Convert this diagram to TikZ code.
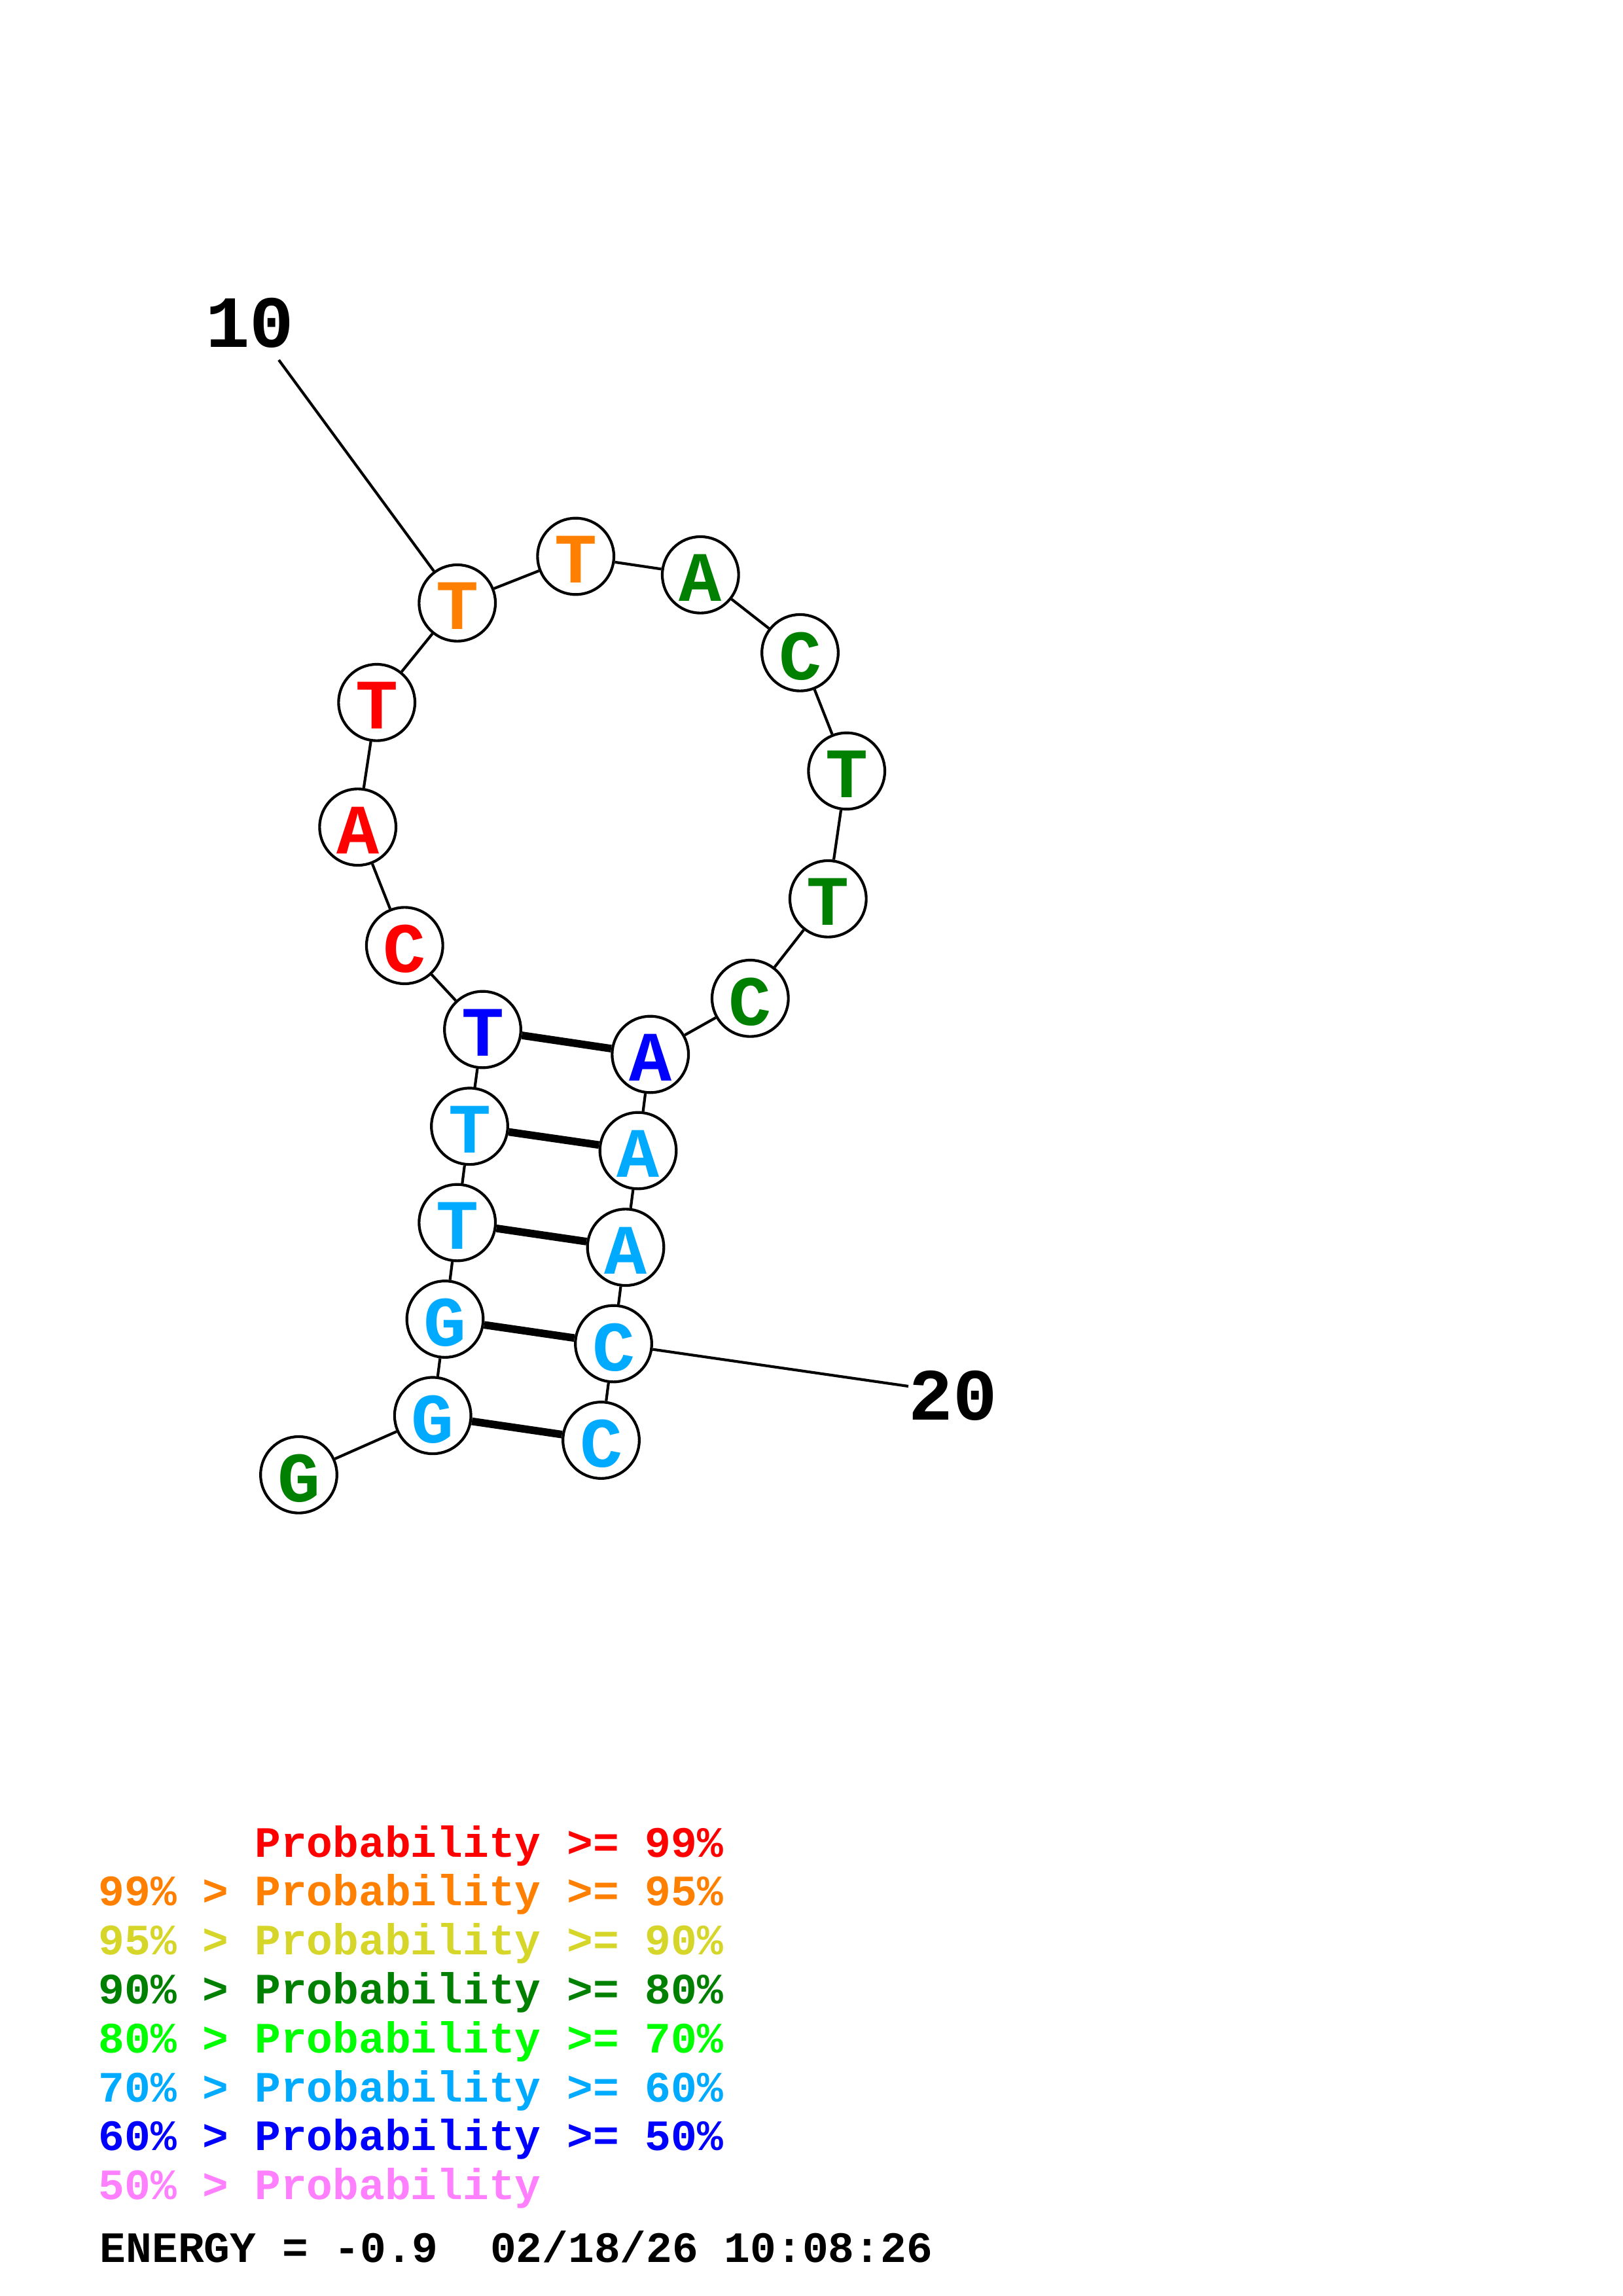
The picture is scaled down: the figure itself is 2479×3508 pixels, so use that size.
\documentclass[tikz,border=0pt]{standalone}
\usepackage{fontspec}
\setmonofont{Liberation Mono}
\definecolor{prob99}{RGB}{255,0,0}
\definecolor{prob95}{RGB}{255,128,0}
\definecolor{prob90}{RGB}{214,214,42}
\definecolor{prob80}{RGB}{0,128,0}
\definecolor{prob70}{RGB}{0,255,0}
\definecolor{prob60}{RGB}{0,170,255}
\definecolor{prob50}{RGB}{0,0,255}
\definecolor{problow}{RGB}{255,128,255}
% letter set a little low in its circle
\newcommand{\nuc}[1]{\raisebox{-1.2pt}[\height][0pt]{#1}}
\tikzset{
	nt/.style={circle, draw=black, fill=white, line width=1pt, minimum size=28pt, inner sep=0pt,
		font=\ttfamily\bfseries\fontsize{26}{26}\selectfont},
	chain/.style={line width=1pt},
	bpair/.style={line width=2.8pt},
	numlabel/.style={anchor=base, inner sep=0pt, font=\ttfamily\bfseries\fontsize{27}{27}\selectfont},
	legendline/.style={anchor=base west, inner sep=0pt, font=\ttfamily\bfseries\fontsize{15.9}{15.9}\selectfont},
}
\begin{document}
\begin{tikzpicture}[x=0.24pt, y=-0.24pt]
	\useasboundingbox (0,0) rectangle (2479,3508);
	\fill[white] (0,0) rectangle (2479,3508);
	% strand 5' side
	\node[nt, text=prob80] (n1) at (456.5,2253.3) {\nuc{G}};
	\node[nt, text=prob60] (n2) at (661.2,2162.8) {\nuc{G}};
	\node[nt, text=prob60] (n3) at (680.0,2015.5) {\nuc{G}};
	\node[nt, text=prob60] (n4) at (698.7,1868.0) {\nuc{T}};
	\node[nt, text=prob60] (n5) at (717.5,1720.8) {\nuc{T}};
	\node[nt, text=prob50] (n6) at (737.5,1573.0) {\nuc{T}};
	% loop
	\node[nt, text=prob99] (n7) at (618.3,1444.7) {\nuc{C}};
	\node[nt, text=prob99] (n8) at (546.7,1263.7) {\nuc{A}};
	\node[nt, text=prob99] (n9) at (575.7,1073.3) {\nuc{T}};
	\node[nt, text=prob95] (n10) at (698.7,921.3) {\nuc{T}};
	\node[nt, text=prob95] (n11) at (879.7,850.0) {\nuc{T}};
	\node[nt, text=prob80] (n12) at (1070.3,878.3) {\nuc{A}};
	\node[nt, text=prob80] (n13) at (1222.5,997.3) {\nuc{C}};
	\node[nt, text=prob80] (n14) at (1293.7,1178.0) {\nuc{T}};
	\node[nt, text=prob80] (n15) at (1265.3,1373.3) {\nuc{T}};
	\node[nt, text=prob80] (n16) at (1146.3,1525.3) {\nuc{C}};
	% strand 3' side
	\node[nt, text=prob50] (n17) at (993.7,1611.0) {\nuc{A}};
	\node[nt, text=prob60] (n18) at (975.0,1758.0) {\nuc{A}};
	\node[nt, text=prob60] (n19) at (956.0,1905.7) {\nuc{A}};
	\node[nt, text=prob60] (n20) at (937.5,2053.0) {\nuc{C}};
	\node[nt, text=prob60] (n21) at (918.5,2200.5) {\nuc{C}};
	% backbone
	\foreach \a [count=\b from 2] in {1,...,20}
		\draw[chain] (n\a) -- (n\b);
	% base pairs
	\draw[bpair] (n2) -- (n21);
	\draw[bpair] (n3) -- (n20);
	\draw[bpair] (n4) -- (n19);
	\draw[bpair] (n5) -- (n18);
	\draw[bpair] (n6) -- (n17);
	% position numbers
	\node[numlabel] (p10) at (382,531) {10};
	\coordinate (p10end) at (426,550);
	\draw[chain] (n10) -- (p10end);
	\node[numlabel] (p20) at (1456,2169) {20};
	\coordinate (p20end) at (1388,2118);
	\draw[chain] (n20) -- (p20end);
	% legend
	\node[legendline, text=prob99] (l99) at (150,2837) {\hphantom{99\% > }Probability >= 99\%};
	\node[legendline, text=prob95] (l95) at (150,2911.8) {99\% > Probability >= 95\%};
	\node[legendline, text=prob90] (l90) at (150,2986.6) {95\% > Probability >= 90\%};
	\node[legendline, text=prob80] (l80) at (150,3061.4) {90\% > Probability >= 80\%};
	\node[legendline, text=prob70] (l70) at (150,3136.2) {80\% > Probability >= 70\%};
	\node[legendline, text=prob60] (l60) at (150,3211.0) {70\% > Probability >= 60\%};
	\node[legendline, text=prob50] (l50) at (150,3285.8) {60\% > Probability >= 50\%};
	\node[legendline, text=problow] (llow) at (150,3360.6) {50\% > Probability};
	\node[legendline, text=black] (energy) at (152,3456) {ENERGY = -0.9\space\space 02/18/26 10:08:26};
\end{tikzpicture}
\end{document}
